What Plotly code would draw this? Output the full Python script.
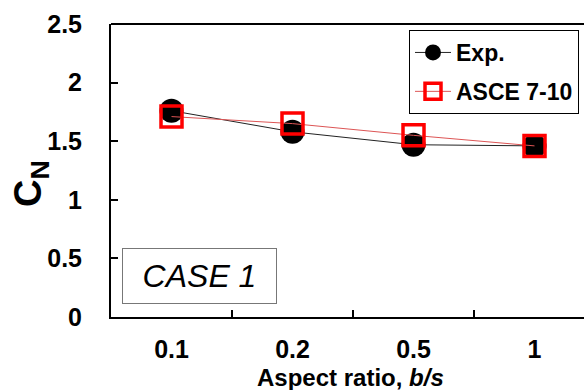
import plotly.graph_objects as go

categories = ["0.1", "0.2", "0.5", "1"]
exp_values = [1.76, 1.58, 1.47, 1.46]
asce_values = [1.71, 1.65, 1.55, 1.46]
y_ticks = [0, 0.5, 1, 1.5, 2, 2.5]

FONT = "Liberation Sans, Arial, sans-serif"
L, T, B, W, H = 111, 24, 73, 584, 390
PW, PH = W - L, H - T - B

fig = go.Figure()
fig.add_trace(go.Scatter(
    x=categories, y=exp_values, name="Exp.", mode="lines+markers", legendgroup="a",
    line=dict(color="#222", width=1),
    marker=dict(symbol="circle", size=24, color="black"),
))
fig.add_trace(go.Scatter(
    x=categories, y=asce_values, name="ASCE 7-10", mode="lines+markers", legendgroup="b",
    line=dict(color="#d55", width=1),
    marker=dict(symbol="square-open", size=21, color="red", line=dict(color="red", width=3.5)),
))

fig.update_layout(
    width=W, height=H,
    margin=dict(l=L, r=0, t=T, b=B, pad=0),
    plot_bgcolor="white", paper_bgcolor="white",
    font=dict(family=FONT, color="black"),
    showlegend=True,
    legend=dict(
        x=(409 - L) / PW, y=(H - B - 30) / PH, xanchor="left", yanchor="top",
        bordercolor="black", borderwidth=1, bgcolor="white",
        font=dict(size=23, family=FONT, color="black", weight="bold"),
        traceorder="grouped", tracegroupgap=6, itemwidth=36,
    ),
    xaxis=dict(
        type="category", range=[-0.5, 3.409],
        showline=True, linecolor="black", linewidth=2, mirror=False,
        ticks="inside", tickson="boundaries", ticklen=7, tickwidth=2, tickcolor="black",
        tickfont=dict(size=25, family=FONT, color="black", weight="bold"),
        ticklabelstandoff=9,
        showgrid=False, zeroline=False,
    ),
    yaxis=dict(
        range=[0, 2.5], tickvals=y_ticks, ticktext=[f"{v:g}" for v in y_ticks],
        showline=True, linecolor="black", linewidth=2,
        ticks="inside", ticklen=7, tickwidth=2, tickcolor="black",
        tickfont=dict(size=25, family=FONT, color="black", weight="bold"),
        showgrid=False, zeroline=False, ticklabelstandoff=22,
    ),
    shapes=[dict(type="line", xref="paper", yref="paper", x0=0, x1=1, y0=1, y1=1,
                 line=dict(color="black", width=2))],
    annotations=[
        dict(text="<b>C<sub>N</sub></b>", xref="paper", yref="paper",
             x=(31 - L) / PW, y=(H - B - 184) / PH,
             xanchor="center", yanchor="middle", textangle=-90, showarrow=False,
             font=dict(size=38, family=FONT, color="black")),
        dict(text="<b>Aspect ratio, <i>b/s</i></b>", xref="paper", yref="paper",
             x=(350 - L) / PW, y=(H - B - 377) / PH, xanchor="center", yanchor="middle",
             showarrow=False,
             font=dict(size=24, family=FONT, color="black")),
        dict(text="<i>CASE 1</i>", xref="paper", yref="paper",
             x=(199.5 - L) / PW, y=(H - B - 276) / PH, xanchor="center", yanchor="middle",
             showarrow=False, font=dict(size=32, family=FONT, color="black"),
             bordercolor="#777", borderwidth=1, width=151, height=52, bgcolor="white"),
    ],
)

fig.write_html("out.html", config={"displayModeBar": False},
               post_script="document.body.style.margin='0px';")
